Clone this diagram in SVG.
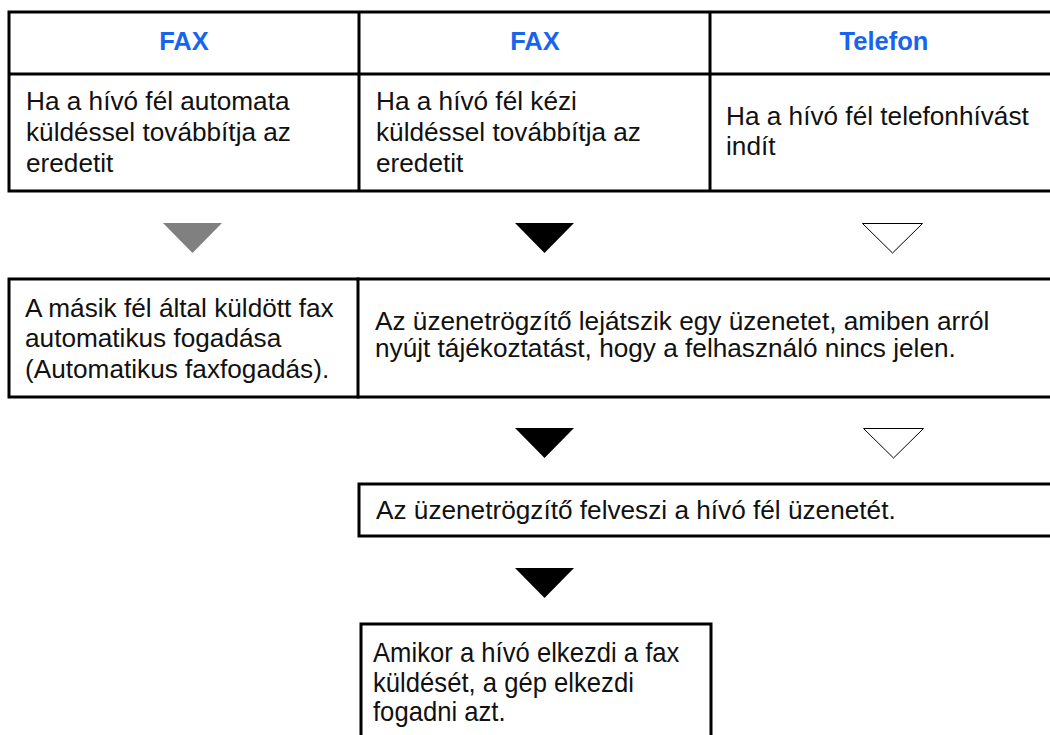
<svg xmlns="http://www.w3.org/2000/svg" width="1050" height="735" viewBox="0 0 1050 735">
<style>
.ln{stroke:#000;stroke-width:3;fill:none;stroke-linecap:square}
.hd{font-family:"Liberation Sans",Arial,sans-serif;font-weight:bold;font-size:25.5px;fill:#1764ee;text-anchor:middle}
.tx{font-family:"Liberation Sans",Arial,sans-serif;font-size:26.2px;fill:#111}
.nr{font-family:"Liberation Sans",Arial,sans-serif;font-size:27px;fill:#111}
</style>
<rect width="1050" height="735" fill="#fff"/>
<g id="table-top">
<path class="ln" d="M9 12H1050M9 74H1050M9 191H1050M9 12V191M359 12V191M710 12V191"/>
</g>
<g id="h-fax1"><text class="hd" x="184" y="50">FAX</text></g>
<g id="h-fax2"><text class="hd" x="535" y="50">FAX</text></g>
<g id="h-tel"><text class="hd" x="884" y="50">Telefon</text></g>
<g id="c-auto">
<text class="tx" x="26" y="110">Ha a hívó fél automata</text>
<text class="tx" x="26" y="141">küldéssel továbbítja az</text>
<text class="tx" x="26" y="172">eredetit</text>
</g>
<g id="c-manual">
<text class="tx" x="376" y="110">Ha a hívó fél kézi</text>
<text class="tx" x="376" y="141">küldéssel továbbítja az</text>
<text class="tx" x="376" y="172">eredetit</text>
</g>
<g id="c-phone">
<text class="tx" x="726" y="125">Ha a hívó fél telefonhívást</text>
<text class="tx" x="726" y="155">indít</text>
</g>
<g id="connectors">
<polygon points="163,223 222,223 192.5,253" fill="#808080"/>
<polygon points="515,223 574,223 544.5,253" fill="#000"/>
<polygon points="862.5,223.5 922.5,223.5 892.5,253" fill="#fff" stroke="#000" stroke-width="1"/>
<polygon points="515,428 574,428 544.5,458" fill="#000"/>
<polygon points="863.5,428.5 923.5,428.5 893.5,458" fill="#fff" stroke="#000" stroke-width="1"/>
<polygon points="515,568 574,568 544.5,598" fill="#000"/>
</g>
<g id="n-autorecv">
<path class="ln" d="M9 279H358M9 397H358M9 279V397M358 279V397"/>
<text class="tx" x="25" y="317">A másik fél által küldött fax</text>
<text class="tx" x="25" y="347">automatikus fogadása</text>
<text class="tx" x="25" y="378">(Automatikus faxfogadás).</text>
</g>
<g id="n-message">
<path class="ln" d="M358 279H1050M358 397H1050"/>
<text class="tx" x="375" y="330">Az üzenetrögzítő lejátszik egy üzenetet, amiben arról</text>
<text class="tx" x="375" y="357">nyújt tájékoztatást, hogy a felhasználó nincs jelen.</text>
</g>
<g id="n-record">
<path class="ln" d="M359 484H1050M359 536H1050M359 484V536"/>
<text class="tx" x="376" y="519">Az üzenetrögzítő felveszi a hívó fél üzenetét.</text>
</g>
<g id="n-faxrecv">
<path class="ln" d="M361 624H711M361 624V737M711 624V737"/>
<g transform="translate(373 0) scale(0.95 1)">
<text class="nr" x="0" y="662">Amikor a hívó elkezdi a fax</text>
<text class="nr" x="0" y="692">küldését, a gép elkezdi</text>
<text class="nr" x="0" y="721">fogadni azt.</text>
</g>
</g>
</svg>
